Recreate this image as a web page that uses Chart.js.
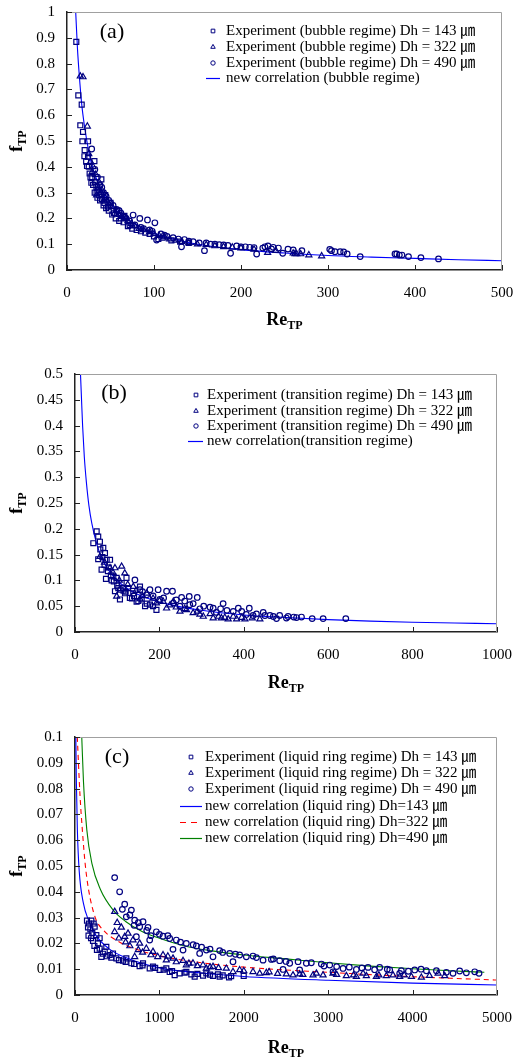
<!DOCTYPE html>
<html>
<head>
<meta charset="utf-8">
<script src="https://cdn.jsdelivr.net/npm/chart.js@4.4.1/dist/chart.umd.min.js"></script>
<style>
  body { margin: 0; background: #fff; width: 513px; height: 1059px; overflow: hidden; }
  canvas { position: absolute; left: 0; }
</style>
</head>
<body>
<canvas id="chartA" width="513" height="335" style="top:0"></canvas>
<canvas id="chartB" width="513" height="360" style="top:335px"></canvas>
<canvas id="chartC" width="513" height="364" style="top:695px"></canvas>
<script>
// ---- (a) bubble regime: [Re_TP, f_TP]
const bubble143 = [[10.7,0.884],[13,0.677],[16.9,0.641],[15.3,0.561],[18.4,0.535],[17.7,0.499],[24.2,0.499],[20.3,0.465],
  [20,0.441],[24.2,0.439],[23,0.403],[31.5,0.422],[26,0.374],[27,0.359],[28,0.338],[39.5,0.351],[33.8,0.323],[31.8,0.30],
  [35,0.28],[38,0.27],[42,0.25],[45,0.24],[48,0.23],[52,0.215],[56,0.2],[60,0.19],[65,0.185],[70,0.17],[75,0.16],[80,0.155],
  [30,0.33],[36,0.31],[44,0.29],[50,0.26],[58,0.23],[66,0.21],[85,0.15],[95,0.14],[110,0.125],[120,0.115],
  [22,0.42],[25,0.4],[29,0.36],[32,0.34],[34,0.3],[37,0.29],[40,0.275],[43,0.26],[47,0.245],[54,0.22],[62,0.2],[72,0.175],
  [90,0.145],[100,0.13],[105,0.12],[130,0.11],[140,0.105]];
const bubble322 = [[15.3,0.751],[18.4,0.748],[23.4,0.557],[25,0.45],[30,0.40],[33,0.37],[37,0.34],[40,0.31],[46,0.27],
  [52,0.245],[57,0.23],[63,0.21],[70,0.19],[78,0.17],[88,0.155],[100,0.14],[112,0.128],[125,0.115],[140,0.105],[160,0.098],
  [180,0.09],[200,0.085],[230.6,0.067],[260,0.065],[262,0.062],[264,0.062],[268.6,0.062],[278,0.058],[292.7,0.054],
  [34,0.29],[42,0.27],[55,0.22],[68,0.2],[27,0.42],[29,0.38],[36,0.32],[39,0.3],[44,0.28],[49,0.25],[60,0.215],[74,0.18],
  [83,0.16],[95,0.148],[106,0.133],[118,0.12],[132,0.11],[150,0.1],[170,0.093],[190,0.088],[215,0.08],[240,0.075]];
const bubble490 = [[28.4,0.469],[32,0.39],[35,0.36],[38,0.33],[42,0.30],[45,0.285],[48,0.27],[53,0.25],[57,0.235],[62,0.22],
  [66,0.205],[72,0.19],[76,0.213],[83.7,0.2],[92.5,0.194],[101,0.183],[85,0.165],[95,0.155],[103,0.116],[108,0.14],[115,0.13],
  [122,0.125],[131.6,0.09],[135,0.118],[145,0.11],[158,0.075],[160,0.105],[170,0.1],[180,0.097],[188,0.065],[195,0.093],
  [205,0.09],[218,0.062],[215,0.087],[227.5,0.09],[231,0.093],[237,0.088],[243,0.085],[248,0.065],[254,0.081],[302,0.08],
  [304,0.075],[308,0.071],[314,0.071],[318,0.07],[322,0.062],[337,0.052],[377,0.062],[379,0.062],[382,0.058],[385,0.058],
  [392.5,0.052],[406.8,0.048],[427,0.043],[40,0.32],[50,0.26],[60,0.23],[68,0.2],[78,0.175],[88,0.16],[98,0.15],[112,0.135],
  [128,0.12],[140,0.112],[152,0.105],[165,0.1],[175,0.098],[185,0.095],[200,0.09],[210,0.088],[225,0.085],[235,0.082],
  [260,0.078],[270,0.075]];
const bubbleFit = [[10,1.0],[12,0.86],[14,0.76],[17,0.64],[20,0.56],[25,0.46],[30,0.39],[35,0.345],[40,0.31],[50,0.26],
  [60,0.22],[70,0.195],[80,0.175],[100,0.142],[125,0.118],[150,0.1],[200,0.079],[250,0.066],[300,0.056],[350,0.05],
  [400,0.045],[450,0.04],[500,0.036]];

// ---- (b) transition regime
const trans143 = [[43.4,0.172],[51.3,0.195],[55,0.185],[59,0.175],[55,0.141],[63,0.121],[67,0.163],[71,0.153],[75,0.14],
  [73.4,0.103],[83,0.14],[86.8,0.1],[90.8,0.108],[94.7,0.079],[98.7,0.105],[102.6,0.085],[110.5,0.095],[118.4,0.075],
  [122,0.105],[130,0.066],[138,0.075],[146,0.059],[158,0.063],[166,0.05],[177.6,0.053],[193,0.043],[106.5,0.063],
  [154,0.088],[126,0.085],[80,0.125],[115,0.08],[140,0.07],[60,0.16],[65,0.145],[70,0.13],[78,0.118],[85,0.11],[92,0.098],
  [100,0.09],[108,0.082],[120,0.078],[135,0.065],[150,0.06],[170,0.055],[185,0.05]];
const trans322 = [[94.7,0.124],[110.5,0.127],[118,0.114],[138,0.088],[170,0.075],[209,0.059],[233,0.059],[248.6,0.04],
  [280,0.037],[304,0.03],[327.5,0.027],[347,0.027],[363,0.025],[383,0.025],[402.5,0.025],[438,0.025],[98.7,0.069],
  [154,0.064],[193,0.056],[217,0.046],[264,0.043],[296,0.034],[375,0.03],[59,0.146],[83,0.124],[70,0.135],[90,0.115],
  [105,0.1],[125,0.092],[145,0.08],[160,0.07],[185,0.065],[200,0.06],[225,0.052],[240,0.048],[260,0.045],[290,0.04],
  [320,0.035],[340,0.03],[355,0.028],[395,0.028],[420,0.027]];
const trans490 = [[142,0.101],[177.6,0.082],[197,0.082],[217,0.079],[231,0.079],[252.6,0.067],[270.7,0.069],[289.7,0.067],
  [351,0.055],[387,0.046],[413,0.046],[446,0.038],[327.5,0.046],[462,0.032],[485,0.032],[505,0.03],[518.5,0.029],
  [536.7,0.029],[562,0.026],[588,0.026],[641.7,0.026],[501,0.027],[477.5,0.026],[422,0.032],[375,0.04],[272,0.053],
  [233,0.056],[201,0.063],[170,0.072],[154,0.082],[114,0.085],[296,0.045],[248.6,0.05],[335,0.038],[406,0.034],
  [160,0.078],[185,0.07],[210,0.066],[240,0.062],[260,0.06],[280,0.055],[305,0.05],[320,0.048],[345,0.045],[360,0.042],
  [395,0.04],[430,0.035],[450,0.032],[470,0.03],[525,0.028]];
const transFit = [[13,0.5],[15,0.46],[18,0.4],[22,0.34],[27,0.29],[33,0.245],[40,0.21],[50,0.175],[60,0.15],[75,0.125],
  [100,0.1],[130,0.081],[170,0.066],[220,0.054],[300,0.042],[400,0.033],[500,0.028],[600,0.024],[700,0.021],[800,0.019],
  [900,0.0175],[1000,0.016]];

// ---- (c) liquid ring regime
const ring143 = [[142,0.0288],[166,0.0277],[194,0.0288],[221,0.0277],[154,0.0262],[182,0.0254],[205,0.0241],[233,0.0265],
  [253,0.0232],[213,0.021],[272,0.02],[292,0.018],[312,0.0148],[352,0.0168],[411,0.0155],[490,0.0142],[569,0.0133],
  [668,0.0123],[766,0.0112],[885,0.0103],[1003,0.0097],[1122,0.0089],[1240,0.0084],[1378,0.008],[1517,0.0075],
  [1635,0.0074],[1714,0.0071],[1825,0.0068],[1999,0.0074],[292,0.022],[371,0.0187],[450,0.0161],[608,0.0142],[806,0.0123],
  [924,0.011],[1082,0.0103],[1319,0.009],[1556,0.0084],[1694,0.008],[1418,0.0071],[1181,0.0077],
  [160,0.023],[190,0.022],[230,0.019],[260,0.0175],[330,0.016],[380,0.015],[430,0.0145],[520,0.0135],[600,0.0128],
  [700,0.012],[800,0.0115],[950,0.0105],[1050,0.0098],[1150,0.0093],[1300,0.0087],[1450,0.0082],[1600,0.0079],
  [1750,0.0076],[1850,0.0073]];
const ring322 = [[470,0.0323],[549,0.0262],[628,0.0239],[470,0.0245],[589,0.0226],[687,0.0213],[766,0.02],[707,0.0148],
  [845,0.018],[924,0.0168],[1043,0.0155],[1161,0.0142],[1280,0.0133],[1398,0.0123],[1517,0.0116],[1635,0.011],
  [1793,0.0103],[1951,0.0097],[2109,0.009],[2267,0.0086],[2504,0.0081],[2662,0.0081],[2820,0.0077],[2939,0.0077],
  [3057,0.0084],[3215,0.0074],[3334,0.0071],[3452,0.0074],[3571,0.0071],[3689,0.0074],[3847,0.0071],[3986,0.0071],
  [4104,0.0068],[4302,0.0084],[4380,0.0074],[1082,0.0135],[1319,0.0116],[1556,0.0103],[1872,0.009],[2188,0.0084],
  [2583,0.0077],[3768,0.0077],[3413,0.0084],[2860,0.0084],[500,0.028],[520,0.022],[600,0.0205],[650,0.019],[750,0.0175],
  [800,0.0165],[900,0.0155],[980,0.0148],[1100,0.015],[1200,0.0128],[1350,0.0122],[1450,0.0113],[1600,0.0108],
  [1700,0.0105],[2000,0.0093],[2300,0.0089],[2400,0.0083],[2700,0.0079],[3100,0.0079],[3300,0.0077],[3600,0.0077],
  [3900,0.0077],[4200,0.0075]];
const ring490 = [[470,0.0455],[529,0.04],[589,0.0352],[561,0.0332],[668,0.0329],[608,0.0303],[707,0.029],[806,0.0284],
  [766,0.0265],[865,0.0262],[727,0.0226],[964,0.0245],[1043,0.0228],[1122,0.0219],[1201,0.0213],[1319,0.02],[1161,0.0177],
  [1438,0.019],[1556,0.0174],[1714,0.0172],[1833,0.0161],[1951,0.0155],[2030,0.0148],[2109,0.0151],[2228,0.0135],
  [2327,0.0138],[2425,0.0133],[2544,0.0123],[2643,0.0129],[2741,0.0123],[2919,0.012],[3018,0.0116],[3176,0.0103],
  [3334,0.0099],[3472,0.0107],[3610,0.0107],[3729,0.0097],[3867,0.0094],[4025,0.0097],[4163,0.0094],[4282,0.0094],
  [4479,0.0084],[4558,0.0093],[4637,0.0086],[4736,0.009],[4787,0.0084],[3847,0.0084],[3057,0.009],[2662,0.0097],
  [2465,0.0099],[1872,0.0129],[1635,0.0148],[1477,0.0161],[1280,0.0174],[885,0.0213],[650,0.031],[700,0.027],[750,0.028],
  [850,0.025],[900,0.023],[1000,0.0235],[1100,0.023],[1250,0.0205],[1400,0.0195],[1500,0.0185],[1600,0.0178],
  [1750,0.0165],[1900,0.0158],[2150,0.0145],[2350,0.014],[2500,0.013],[2800,0.0125],[2950,0.0112],[3100,0.011],
  [3250,0.0108],[3400,0.0105],[3550,0.0098],[3700,0.01],[3950,0.0092],[4100,0.01],[4400,0.0088]];
const ringFit143 = [[10,0.1],[15,0.085],[28,0.064],[50,0.048],[100,0.0355],[160,0.029],[250,0.023],[400,0.018],[600,0.0145],
  [1000,0.0105],[1500,0.0085],[2000,0.0072],[3000,0.0057],[4000,0.0046],[5000,0.0039]];
const ringFit322 = [[27,0.1],[60,0.077],[87,0.064],[120,0.051],[160,0.041],[240,0.030],[340,0.025],[500,0.021],[700,0.018],
  [1000,0.0152],[1500,0.0125],[2000,0.0108],[3000,0.0088],[4000,0.0071],[5000,0.0058]];
const ringFit490 = [[80,0.1],[100,0.083],[140,0.064],[200,0.051],[300,0.041],[450,0.033],[600,0.0285],[800,0.0245],
  [1000,0.022],[1300,0.019],[1600,0.0172],[2000,0.0155],[2500,0.014],[3000,0.0125],[3500,0.0112],[4000,0.0102],
  [4500,0.0093],[4850,0.0088]];

const UM = '\u339B';
const NAVY = '#000080';
const SERIF = "'Liberation Serif', 'Noto Sans CJK KR', serif";

Chart.defaults.font.family = SERIF;
Chart.defaults.font.size = 15;
Chart.defaults.color = '#000';

const pts = arr => arr.map(([x, y]) => ({ x, y }));

function markers(data, style, label) {
  return {
    label, data: pts(data), pointStyle: style,
    pointRadius: style === 'circle' ? 2.8 : 3.5,
    borderColor: NAVY, backgroundColor: 'rgba(0,0,0,0)', pointBorderWidth: 1.2, showLine: false
  };
}

function curve(data, color, label, dash) {
  return {
    label, data: pts(data), showLine: true, pointRadius: 0, borderColor: color, borderWidth: 1.1,
    borderDash: dash || [], cubicInterpolationMode: 'monotone', isLine: true
  };
}

function fmt(v) { return String(+v.toFixed(4)); }

function drawSub(ctx, main, sub, x, y) {
  ctx.font = 'bold 18px ' + SERIF;
  const w1 = ctx.measureText(main).width;
  ctx.font = 'bold 12px ' + SERIF;
  const w2 = ctx.measureText(sub).width;
  const x0 = x - (w1 + w2) / 2;
  ctx.textAlign = 'left';
  ctx.textBaseline = 'alphabetic';
  ctx.font = 'bold 18px ' + SERIF;
  ctx.fillText(main, x0, y);
  ctx.font = 'bold 12px ' + SERIF;
  ctx.fillText(sub, x0 + w1, y + 4);
}

const decor = {
  id: 'decor',
  afterDraw(chart, args, o) {
    const { ctx, chartArea: a, scales: { x, y } } = chart;
    ctx.save();
    ctx.strokeStyle = '#a0a0a0';
    ctx.lineWidth = 1;
    ctx.beginPath();
    ctx.moveTo(a.left, a.top + 0.5);
    ctx.lineTo(a.right - 0.5, a.top + 0.5);
    ctx.lineTo(a.right - 0.5, a.bottom);
    ctx.stroke();

    // inward tick marks
    ctx.strokeStyle = '#222';
    ctx.beginPath();
    x.ticks.forEach(t => {
      const px = Math.round(x.getPixelForValue(t.value)) + 0.5;
      ctx.moveTo(px, a.bottom); ctx.lineTo(px, a.bottom - 5);
    });
    y.ticks.forEach(t => {
      const py = Math.round(y.getPixelForValue(t.value)) + 0.5;
      ctx.moveTo(a.left, py); ctx.lineTo(a.left + 5, py);
    });
    ctx.stroke();

    ctx.fillStyle = '#000';
    // axis titles
    drawSub(ctx, 'Re', 'TP', (a.left + a.right) / 2, o.xTitleY);
    ctx.save();
    ctx.translate(22, (a.top + a.bottom) / 2);
    ctx.rotate(-Math.PI / 2);
    drawSub(ctx, 'f', 'TP', 0, 0);
    ctx.restore();

    // panel letter
    ctx.font = '22px ' + SERIF;
    ctx.textAlign = 'center';
    ctx.textBaseline = 'middle';
    ctx.fillText(o.tag, o.tagX, o.tagY);

    // legend
    ctx.font = '15px ' + SERIF;
    ctx.textAlign = 'left';
    ctx.textBaseline = 'middle';
    chart.data.datasets.forEach((ds, i) => {
      const ry = o.rows[i];
      if (ds.isLine) {
        ctx.save();
        ctx.strokeStyle = ds.borderColor;
        ctx.lineWidth = 1.2;
        ctx.setLineDash(ds.borderDash.length ? [6, 5] : []);
        ctx.beginPath();
        ctx.moveTo(o.lineX[0], ry + 0.5); ctx.lineTo(o.lineX[1], ry + 0.5);
        ctx.stroke();
        ctx.restore();
      } else {
        ctx.save();
        ctx.strokeStyle = NAVY;
        ctx.fillStyle = 'rgba(0,0,0,0)';
        ctx.lineWidth = 1;
        Chart.helpers.drawPoint(ctx, { pointStyle: ds.pointStyle, radius: ds.pointStyle === 'circle' ? 2.2 : 2.6, borderWidth: 1 }, o.markX, ry);
        ctx.restore();
      }
      ctx.fillStyle = '#000';
      ctx.fillText(ds.label, o.textX, ry);
    });
    ctx.restore();
  }
};

function makeChart(id, datasets, box, xr, yr, deco) {
  const cv = document.getElementById(id);
  return new Chart(cv, {
    type: 'scatter',
    data: { datasets },
    options: {
      responsive: false,
      animation: false,
      events: [],
      layout: { padding: { left: 0, top: box.top, right: 513 - box.right, bottom: 0 } },
      scales: {
        x: {
          type: 'linear', min: xr[0], max: xr[1],
          ticks: { stepSize: xr[2], padding: 14, callback: fmt, maxRotation: 0, autoSkip: false },
          grid: { display: false, drawTicks: false },
          border: { display: true, color: '#222', width: 1.5 },
          // labels may hang over the plot edges; keep the plot box fixed
          afterFit: s => { s.height = cv.height - box.bottom; s.paddingLeft = 0; s.paddingRight = 0; }
        },
        y: {
          type: 'linear', min: yr[0], max: yr[1],
          ticks: { stepSize: yr[2], padding: 12, callback: fmt, autoSkip: false },
          grid: { display: false, drawTicks: false },
          border: { display: true, color: '#222', width: 1.5 },
          afterFit: s => { s.width = box.left; s.paddingTop = 0; s.paddingBottom = 0; }
        }
      },
      plugins: { legend: { display: false }, tooltip: { enabled: false }, decor: deco }
    },
    plugins: [decor]
  });
}

makeChart('chartA', [
  markers(bubble143, 'rect', 'Experiment (bubble regime) Dh = 143 ' + UM),
  markers(bubble322, 'triangle', 'Experiment (bubble regime) Dh = 322 ' + UM),
  markers(bubble490, 'circle', 'Experiment (bubble regime) Dh = 490 ' + UM),
  curve(bubbleFit, '#0000ff', 'new correlation (bubble regime)')
], { left: 67, right: 502, top: 12, bottom: 270 }, [0, 500, 100], [0, 1, 0.1],
  { xTitleY: 325, tag: '(a)', tagX: 112, tagY: 32, rows: [31, 47, 63, 78], markX: 213, textX: 226, lineX: [206, 220] });

makeChart('chartB', [
  markers(trans143, 'rect', 'Experiment (transition regime) Dh = 143 ' + UM),
  markers(trans322, 'triangle', 'Experiment (transition regime) Dh = 322 ' + UM),
  markers(trans490, 'circle', 'Experiment (transition regime) Dh = 490 ' + UM),
  curve(transFit, '#0000ff', 'new correlation(transition regime)')
], { left: 75, right: 497, top: 39, bottom: 297 }, [0, 1000, 200], [0, 0.5, 0.05],
  { xTitleY: 353, tag: '(b)', tagX: 114, tagY: 58, rows: [60, 76, 91, 106], markX: 196, textX: 207, lineX: [188, 203] });

makeChart('chartC', [
  markers(ring143, 'rect', 'Experiment (liquid ring regime) Dh = 143 ' + UM),
  markers(ring322, 'triangle', 'Experiment (liquid ring regime) Dh = 322 ' + UM),
  markers(ring490, 'circle', 'Experiment (liquid ring regime) Dh = 490 ' + UM),
  curve(ringFit143, '#0000ff', 'new correlation (liquid ring) Dh=143 ' + UM),
  curve(ringFit322, '#ff0000', 'new correlation (liquid ring) Dh=322 ' + UM, [5, 4]),
  curve(ringFit490, '#008000', 'new correlation (liquid ring) Dh=490 ' + UM)
], { left: 75, right: 497, top: 42, bottom: 300 }, [0, 5000, 1000], [0, 0.1, 0.01],
  { xTitleY: 358, tag: '(c)', tagX: 117, tagY: 62, rows: [62, 78, 94, 111, 127, 143], markX: 191, textX: 205, lineX: [180, 202] });
</script>
</body>
</html>
